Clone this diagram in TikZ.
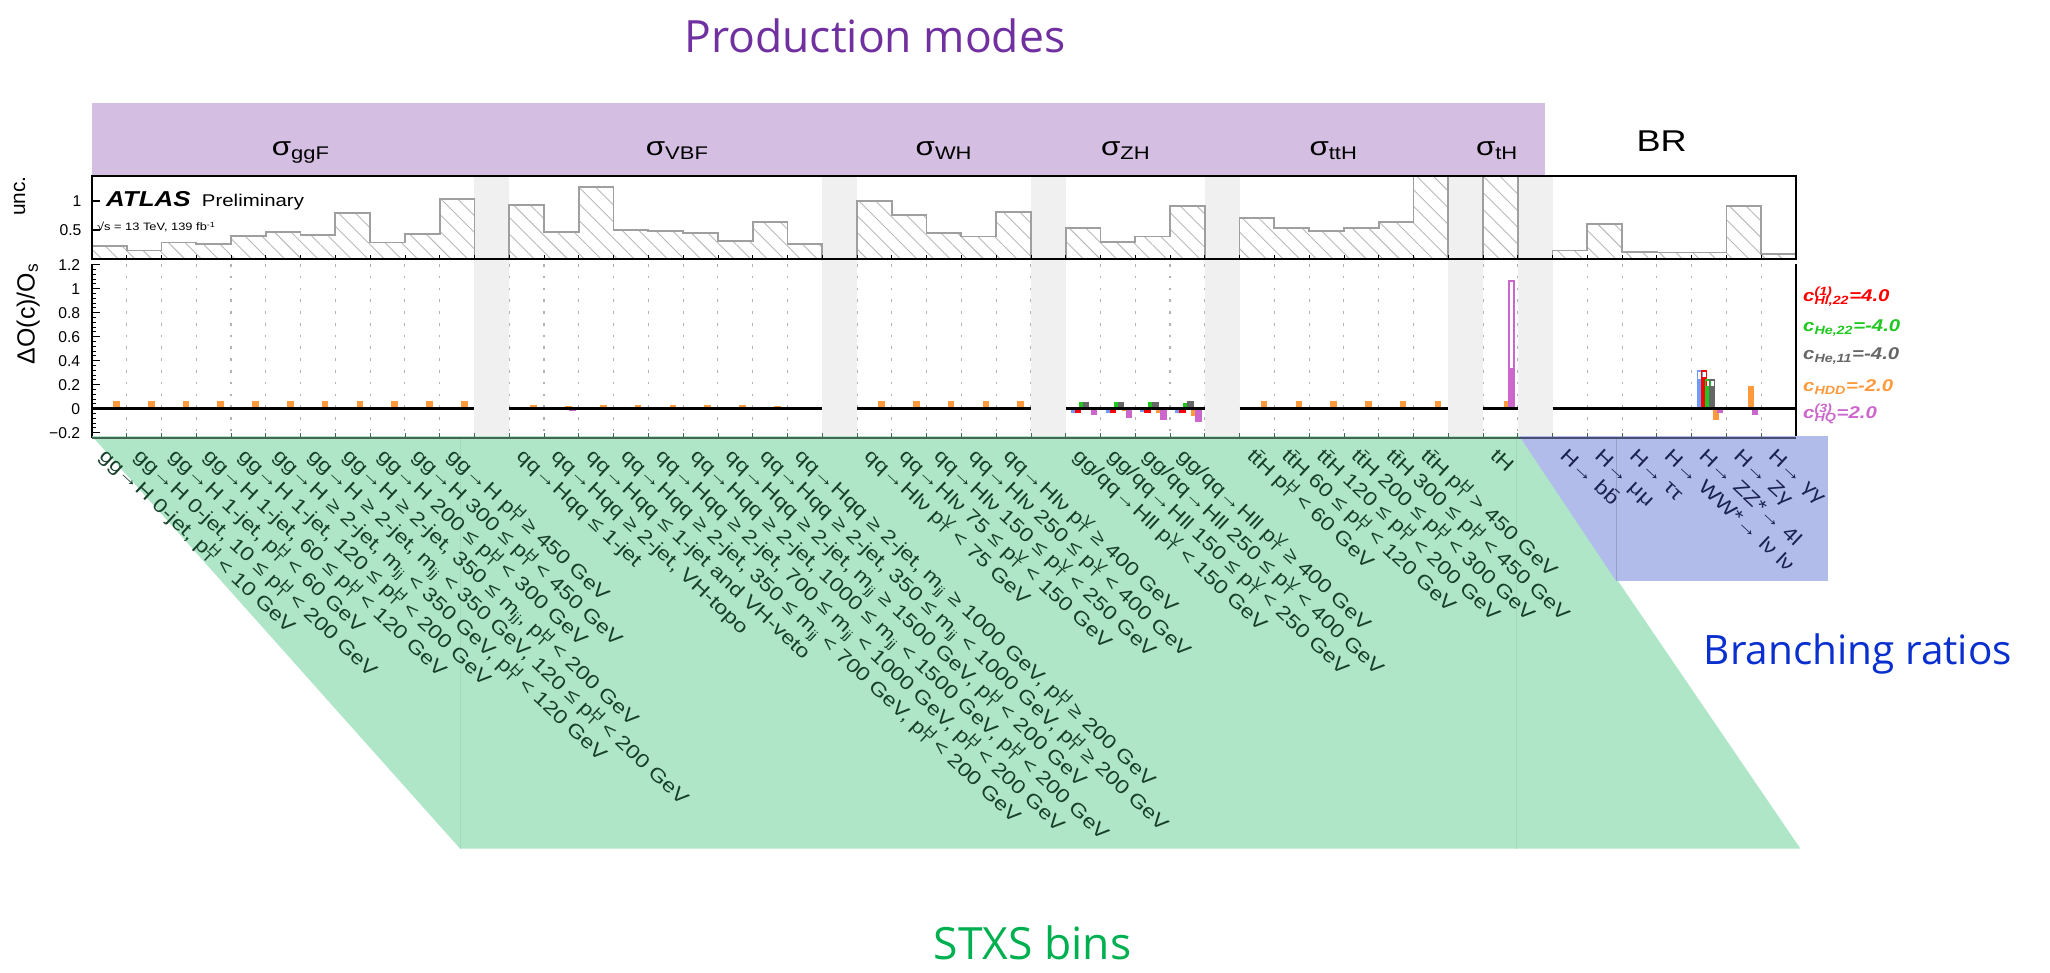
\documentclass[tikz,border=0pt]{standalone}
\usepackage{fontspec}
\setmainfont{Liberation Sans}[FakeStretch=1.2]
\newfontfamily\slidefont{Open Sans}
\newfontfamily\plainfont{Liberation Sans}
\usetikzlibrary{patterns.meta}

\definecolor{prodpurple}{HTML}{7030A0}
\definecolor{stxsgreen}{HTML}{00B050}
\definecolor{brblue}{HTML}{0A2FCF}
\definecolor{bandpurple}{HTML}{D4BEE2}
\definecolor{bandgreen}{HTML}{B0E6C8}
\definecolor{bandblue}{HTML}{B2BCEB}
\definecolor{seamgreen}{HTML}{A2D9BA}
\definecolor{labgreen}{HTML}{173F2A}
\definecolor{labblue}{HTML}{1B2250}
\definecolor{gapgray}{HTML}{F0F0F0}
\definecolor{cblue}{HTML}{6F9BFA}
\definecolor{cred}{HTML}{FF0000}
\definecolor{cgreen}{HTML}{1FC81F}
\definecolor{cgray}{HTML}{666666}
\definecolor{corange}{HTML}{FF9A3C}
\definecolor{cmag}{HTML}{CC66CC}

\newcommand{\ptH}{p\rlap{\textsuperscript{H}}\textsubscript{T}}
\newcommand{\ptV}{p\rlap{\textsuperscript{V}}\textsubscript{T}}
\newcommand{\mjj}{m\textsubscript{jj}}

% plot geometry, 1 unit = 1pt
\newcommand{\plotx}{70.3}
\newcommand{\binw}{26.6}
\newcommand{\uzero}{198.3}
\newcommand{\uunit}{44.6}
\newcommand{\lzero}{312.6}
\newcommand{\lunit}{91.8}

% bar of one coefficient: bin, slot, value, colour
\newcommand{\cbar}[4]{%
  \fill[#4] ({\plotx+(#1+0.15+0.115*#2)*\binw},\lzero) rectangle ++({0.19*\binw},{-(#3)*\lunit});}
% hollow topped bar: bin, slot, filled value, outline value, colour
\newcommand{\obar}[5]{%
  \fill[#5] ({\plotx+(#1+0.15+0.115*#2)*\binw},\lzero) rectangle ++({0.19*\binw},{-(#3)*\lunit});
  \draw[#5, line width=1.2pt] ({\plotx+(#1+0.15+0.115*#2)*\binw+0.6},\lzero) rectangle ++({0.19*\binw-1.2},{-(#4)*\lunit+0.6});}
% uncertainty histogram: first bin, end bin, values
\newcommand{\uhist}[3]{%
  \draw[histline] ({\plotx+#1*\binw},\uzero)
    \foreach \vv [count=\nn from #1] in {#3} {
      -- ({\plotx+\nn*\binw},{\uzero-\vv*\uunit}) -- ({\plotx+(\nn+1)*\binw},{\uzero-\vv*\uunit}) }
    -- ({\plotx+#2*\binw},\uzero) -- cycle;}

\begin{document}
\begin{tikzpicture}[x=1pt,y=-1pt,
    histline/.style={draw=gray!75, line width=1.4pt, pattern={Lines[angle=-45,distance=9pt,line width=0.7pt]}, pattern color=gray!55},
    gridline/.style={gray!60, line width=0.8pt, dash pattern=on 2pt off 7pt},
    frameline/.style={black, line width=1.5pt},
    zeroline/.style={black, line width=2pt},
    binlab/.style={anchor=base west, rotate=-43, inner sep=0pt, font=\fontsize{14.8}{14.8}\selectfont, text=labgreen},
    brlab/.style={binlab, text=labblue},
    ticklab/.style={anchor=east, inner sep=0pt, font=\plainfont\fontsize{12}{12}\selectfont},
    sigmalab/.style={anchor=base, inner sep=0pt, font=\fontsize{20}{20}\selectfont},
    legtext/.style={anchor=base west, inner sep=0pt, font=\fontsize{13}{13}\selectfont\bfseries\itshape},
    slidetitle/.style={anchor=base west, inner sep=0pt, font=\slidefont\fontsize{34}{34}\selectfont}]
    \useasboundingbox (0,0) rectangle (1568,744);

    % production mode band
    \fill[bandpurple] (\plotx,78.5) rectangle (1181.7,134);
    \node[slidetitle, text=prodpurple] (prodtitle) at (523.4,40.3) {Production modes};
    \node[sigmalab] (sggf) at (230,118.6) {σ\textsubscript{ggF}};
    \node[sigmalab] (svbf) at (518,118.6) {σ\textsubscript{VBF}};
    \node[sigmalab] (swh) at (722,118.6) {σ\textsubscript{WH}};
    \node[sigmalab] (szh) at (861,118.6) {σ\textsubscript{ZH}};
    \node[sigmalab] (stth) at (1020,118.6) {σ\textsubscript{ttH}};
    \node[sigmalab] (sth) at (1145,118.6) {σ\textsubscript{tH}};
    \node[sigmalab, font=\fontsize{23}{23}\selectfont] (brhead) at (1271,116) {BR};

    % dashed grid of the lower panel
    \foreach \k in {1,...,48}
        \draw[gridline] ({\plotx+\k*\binw},202) -- ({\plotx+\k*\binw},335);

    % gaps between the groups
    \foreach \g in {11,21,27,32,39,41}
        \fill[gapgray] ({\plotx+\g*\binw},134.6) rectangle ++(\binw,200.7);

    % uncertainty histograms
    \uhist{0}{11}{0.234,0.149,0.286,0.263,0.394,0.463,0.417,0.789,0.286,0.434,1.04}
    \uhist{12}{21}{0.926,0.474,1.246,0.503,0.48,0.457,0.314,0.646,0.263}
    \uhist{22}{27}{1.006,0.76,0.457,0.389,0.811}
    \uhist{28}{32}{0.543,0.303,0.389,0.92}
    \uhist{33}{39}{0.714,0.537,0.48,0.531,0.64,1.42}
    \uhist{40}{41}{1.42}
    \uhist{42}{49}{0.15,0.61,0.13,0.115,0.115,0.91,0.09}

    % upper frame and ticks
    \draw[frameline] (\plotx,134.6) rectangle (1373.9,\uzero);
    \foreach \k in {1,...,48}
        \draw[black, line width=0.6pt] ({\plotx+\k*\binw},\uzero) -- ++(0,-3);
    \foreach \vv in {0.5,1}
        \draw[frameline] (\plotx,{\uzero-\vv*\uunit}) -- ++(6,0);
    \node[ticklab] (uone) at (62.5,{\uzero-\uunit}) {1};
    \node[ticklab] (uhalf) at (62.5,{\uzero-0.5*\uunit}) {0.5};
    \node[rotate=90, inner sep=0pt, font=\plainfont\fontsize{16}{16}\selectfont] (unc) at (15,150) {unc.};
    \node[anchor=base west, inner sep=0pt, font=\fontsize{16.5}{16.5}\selectfont\bfseries\itshape] (atlas) at (81,157.6) {ATLAS};
    \node[anchor=base west, inner sep=0pt, font=\fontsize{13}{13}\selectfont] (prelim) at (154.3,157.6) {Preliminary};
    \node[anchor=base west, inner sep=0pt, font=\fontsize{8.2}{8.2}\selectfont] (energy) at (74,176.5) {√s = 13 TeV, 139 fb\textsuperscript{-1}};

    % coefficient bars
    \foreach \i in {0,...,10} {\cbar{\i}{4}{0.067}{corange}}
    \foreach \i/\h in {12/0.03,13/0.022,14/0.03,15/0.03,16/0.03,17/0.03,18/0.03,19/0.022,20/0.017}
        {\cbar{\i}{4}{\h}{corange}}
    \cbar{12}{5}{-0.01}{cmag}
    \cbar{13}{5}{-0.02}{cmag}
    \foreach \i in {22,...,26} {\cbar{\i}{4}{0.067}{corange}}
    \foreach \i in {23,...,26} {\cbar{\i}{5}{0.015}{cmag}}
    \foreach \i/\b/\r/\gr/\gy/\o/\m in {28/-0.033/-0.039/0.056/0.056/-0.01/-0.053,
            29/-0.035/-0.039/0.053/0.053/-0.02/-0.08, 30/-0.03/-0.039/0.053/0.056/-0.04/-0.095,
            31/-0.035/-0.039/0.045/0.067/-0.058/-0.108} {
        \cbar{\i}{0}{\b}{cblue}
        \cbar{\i}{1}{\r}{cred}
        \cbar{\i}{2}{\gr}{cgreen}
        \cbar{\i}{3}{\gy}{cgray}
        \cbar{\i}{4}{\o}{corange}
        \cbar{\i}{5}{\m}{cmag}
    }
    \foreach \i in {33,...,38} {\cbar{\i}{4}{0.067}{corange}}
    \foreach \i in {34,...,37} {\cbar{\i}{5}{0.012}{cmag}}
    \cbar{40}{4}{0.067}{corange}
    \obar{40}{5}{0.336}{1.072}{cmag}
    \foreach \i in {42,43,44,45,48} {\cbar{\i}{4}{0.005}{corange}}
    \obar{46}{0}{0.25}{0.32}{cblue}
    \obar{46}{1}{0.26}{0.32}{cred}
    \obar{46}{2}{0.19}{0.245}{cgreen}
    \obar{46}{3}{0.19}{0.245}{cgray}
    \cbar{46}{4}{-0.092}{corange}
    \cbar{46}{5}{-0.04}{cmag}
    \cbar{47}{4}{0.186}{corange}
    \cbar{47}{5}{-0.05}{cmag}

    % zero line in each group
    \foreach \s/\e in {0/11,12/21,22/27,28/32,33/39,40/41,42/49}
        \draw[zeroline] ({\plotx+\s*\binw},\lzero) -- ({\plotx+\e*\binw},\lzero);

    % lower axes
    \draw[frameline] (\plotx,202) -- (\plotx,335.3);
    \draw[frameline] (1373.9,202) -- (1373.9,335.3);
    \foreach \m in {-6,...,30}
        \draw[black, line width=0.8pt] (\plotx,{\lzero-\m*0.04*\lunit}) -- ++(3,0);
    \foreach \vv/\t in {-0.2/−0.2,0/0,0.2/0.2,0.4/0.4,0.6/0.6,0.8/0.8,1/1,1.2/1.2} {
        \draw[black, line width=0.8pt] (\plotx,{\lzero-\vv*\lunit}) -- ++(6,0);
        \node[ticklab] (tick\vv) at (61.5,{\lzero-\vv*\lunit}) {\t};
    }
    \node[rotate=90, inner sep=0pt, font=\plainfont\fontsize{19}{19}\selectfont] (ratio) at (21.5,240) {ΔO(c)/O\textsubscript{s}};

    % legend
    \node[legtext, text=cred] (leghl) at (1379,230.6) {c\rlap{\textsuperscript{(1)}}\textsubscript{Hl,22}=4.0};
    \node[legtext, text=cgreen] (leghe) at (1379,253.6) {c\textsubscript{He,22}=-4.0};
    \node[legtext, text=cgray] (leghee) at (1379,275.2) {c\textsubscript{He,11}=-4.0};
    \node[legtext, text=corange] (leghdd) at (1379,299.5) {c\textsubscript{HDD}=-2.0};
    \node[legtext, text=cmag] (leghq) at (1379,319.9) {c\rlap{\textsuperscript{(3)}}\textsubscript{HQ}=2.0};

    % STXS bins and branching ratios
    \fill[bandgreen] (\plotx,333.5) -- (1162,333.5) -- (1377,649) -- (351.8,649) -- cycle;
    \fill[bandblue] (1162,333.5) -- (1398,333.5) -- (1398,444.3) -- (1236,444.3) -- cycle;
    \draw[seamgreen, line width=0.5pt] (351.8,334) -- (351.8,649);
    \draw[seamgreen, line width=0.5pt] (1160,334) -- (1160,649);
    \draw[bandblue!85!black, line width=0.4pt] (1236,334) -- (1236,444.3);
    \draw[labgreen!80, line width=1.5pt] (\plotx,335.3) -- (1162,335.3);
    \draw[labblue!80, line width=1.5pt] (1162,335.3) -- (1373.9,335.3);
    \foreach \k in {1,...,48}
        \draw[labgreen!80, line width=0.6pt] ({\plotx+\k*\binw},335.3) -- ++(0,-4);

    \foreach \lab [count=\nn from 0] in {{gg→H 0-jet, \ptH\ < 10 GeV},
            {gg→H 0-jet, 10 ≤ \ptH\ < 200 GeV}, {gg→H 1-jet, \ptH\ < 60 GeV},
            {gg→H 1-jet, 60 ≤ \ptH\ < 120 GeV}, {gg→H 1-jet, 120 ≤ \ptH\ < 200 GeV},
            {gg→H ≥ 2-jet, \mjj\ < 350 GeV, \ptH\ < 120 GeV},
            {gg→H ≥ 2-jet, \mjj\ < 350 GeV, 120 ≤ \ptH\ < 200 GeV},
            {gg→H ≥ 2-jet, 350 ≤ \mjj, \ptH\ < 200 GeV}, {gg→H 200 ≤ \ptH\ < 300 GeV},
            {gg→H 300 ≤ \ptH\ < 450 GeV}, {gg→H \ptH\ ≥ 450 GeV}}
        \node[binlab] (ggf\nn) at ({\plotx+(\nn+0.5)*\binw-8.5},349.6) {\lab};
    \foreach \lab [count=\nn from 12] in {{qq→Hqq ≤ 1-jet}, {qq→Hqq ≥ 2-jet, VH-topo},
            {qq→Hqq ≤ 1-jet and VH-veto},
            {qq→Hqq ≥ 2-jet, 350 ≤ \mjj\ < 700 GeV, \ptH\ < 200 GeV},
            {qq→Hqq ≥ 2-jet, 700 ≤ \mjj\ < 1000 GeV, \ptH\ < 200 GeV},
            {qq→Hqq ≥ 2-jet, 1000 ≤ \mjj\ < 1500 GeV, \ptH\ < 200 GeV},
            {qq→Hqq ≥ 2-jet, \mjj\ ≥ 1500 GeV, \ptH\ < 200 GeV},
            {qq→Hqq ≥ 2-jet, 350 ≤ \mjj\ < 1000 GeV, \ptH\ ≥ 200 GeV},
            {qq→Hqq ≥ 2-jet, \mjj\ ≥ 1000 GeV, \ptH\ ≥ 200 GeV}}
        \node[binlab] (vbf\nn) at ({\plotx+(\nn+0.5)*\binw-8.5},349.6) {\lab};
    \foreach \lab [count=\nn from 22] in {{qq→Hlν \ptV\ < 75 GeV}, {qq→Hlν 75 ≤ \ptV\ < 150 GeV},
            {qq→Hlν 150 ≤ \ptV\ < 250 GeV}, {qq→Hlν 250 ≤ \ptV\ < 400 GeV},
            {qq→Hlν \ptV\ ≥ 400 GeV}}
        \node[binlab] (wh\nn) at ({\plotx+(\nn+0.5)*\binw-8.5},349.6) {\lab};
    \foreach \lab [count=\nn from 28] in {{gg/qq→Hll \ptV\ < 150 GeV},
            {gg/qq→Hll 150 ≤ \ptV\ < 250 GeV}, {gg/qq→Hll 250 ≤ \ptV\ < 400 GeV},
            {gg/qq→Hll \ptV\ ≥ 400 GeV}}
        \node[binlab] (zh\nn) at ({\plotx+(\nn+0.5)*\binw-8.5},349.6) {\lab};
    \foreach \lab [count=\nn from 33] in {{t\={t}H \ptH\ < 60 GeV}, {t\={t}H 60 ≤ \ptH\ < 120 GeV},
            {t\={t}H 120 ≤ \ptH\ < 200 GeV}, {t\={t}H 200 ≤ \ptH\ < 300 GeV},
            {t\={t}H 300 ≤ \ptH\ < 450 GeV}, {t\={t}H \ptH\ > 450 GeV}}
        \node[binlab] (tth\nn) at ({\plotx+(\nn+0.5)*\binw-8.5},349.6) {\lab};
    \node[binlab] (th40) at ({\plotx+40.5*\binw-8.5},349.6) {tH};
    \foreach \lab [count=\nn from 42] in {{H→ b\={b}}, {H→ μμ}, {H→ ττ}, {H→ WW*→ lν lν},
            {H→ ZZ*→ 4l}, {H→ Zγ}, {H→ γγ}}
        \node[brlab] (br\nn) at ({\plotx+(\nn+0.5)*\binw-8.5},349.6) {\lab};

    \node[slidetitle, text=stxsgreen] (stxstitle) at (714,733.8) {STXS bins};
    \node[slidetitle, text=brblue, font=\slidefont\fontsize{31}{31}\selectfont] (brtitle) at (1303,508) {Branching ratios};
\end{tikzpicture}
\end{document}
